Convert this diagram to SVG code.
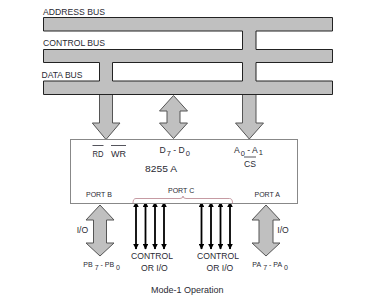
<svg xmlns="http://www.w3.org/2000/svg" width="368" height="301" viewBox="0 0 368 301">
<defs>
<style>
.t{font-family:"Liberation Sans",Arial,sans-serif;fill:#2a2a33;font-size:8.6px}
.s{font-size:7px}
.sub{font-size:7.5px}
.bus{fill:#c0c0c0;stroke:none}
.edge{fill:none;stroke:#222;stroke-width:1}
.fat{fill:#c0c0c0;stroke:#555;stroke-width:1;stroke-linejoin:miter}
.thin{stroke:#000;stroke-width:1.8;marker-start:url(#ah);marker-end:url(#ah)}
.ov{stroke:#2a2a33;stroke-width:0.8}
</style>
<marker id="ah" viewBox="0 0 10 10" refX="9" refY="5" markerWidth="3.2" markerHeight="3.2" orient="auto-start-reverse" markerUnits="strokeWidth">
<path d="M0,0 L10,5 L0,10 Z" fill="#000"/>
</marker>
</defs>
<rect width="368" height="301" fill="#fff"/>

<g id="buses">
<rect class="bus" x="43.5" y="17.5" width="289" height="13.5"/>
<rect class="bus" x="43.5" y="49.5" width="289" height="13"/>
<rect class="bus" x="43.5" y="81" width="289" height="13.5"/>
<rect class="bus" x="242.5" y="30" width="13.5" height="52"/>
<rect class="bus" x="99.5" y="62" width="13" height="20"/>
<path class="edge" d="M242.5,31 H43.5 V17.5 H332.5 V31 H256"/>
<path class="edge" d="M242.5,31 V49.5 M256,31 V49.5"/>
<path class="edge" d="M242.5,49.5 H43.5 V62.5 H99.5 M112.5,62.5 H242.5 M256,62.5 H332.5 V49.5 H256"/>
<path class="edge" d="M242.5,62.5 V81 M256,62.5 V81 M99.5,62.5 V81 M112.5,62.5 V81"/>
<path class="edge" d="M99.5,81 H43.5 V94.5 H332.5 V81 H256 M242.5,81 H112.5"/>
<text class="t" x="43" y="15" textLength="62" lengthAdjust="spacingAndGlyphs">ADDRESS BUS</text>
<text class="t" x="43" y="46" textLength="62" lengthAdjust="spacingAndGlyphs">CONTROL BUS</text>
<text class="t" x="41.5" y="78" textLength="41" lengthAdjust="spacingAndGlyphs">DATA BUS</text>
</g>

<g id="connectors">
<path class="fat" d="M99.5,95 V123 H92.3 L106,139.5 L120,123 H112.5 V95"/>
<path class="fat" d="M173.5,95.5 L187.5,111 H180 V123 H187.5 L173.5,138.5 L159.5,123 H167 V111 H159.5 Z"/>
<path class="fat" d="M242.5,95 V123 H235.5 L249.3,139 L263.5,123 H256 V95"/>
<path class="fat" d="M100,205 L114,220 H106.5 V243 H114 L100,256 L86,243 H93.5 V220 H86 Z"/>
<path class="fat" d="M266,205 L280,220 H273 V243 H280 L266,256 L252,243 H259 V220 H252 Z"/>
<g>
<line class="thin" x1="136" y1="202" x2="136" y2="249"/>
<line class="thin" x1="145.5" y1="202" x2="145.5" y2="249"/>
<line class="thin" x1="155" y1="202" x2="155" y2="249"/>
<line class="thin" x1="164" y1="202" x2="164" y2="249"/>
<line class="thin" x1="201.5" y1="202" x2="201.5" y2="249"/>
<line class="thin" x1="211" y1="202" x2="211" y2="249"/>
<line class="thin" x1="220.5" y1="202" x2="220.5" y2="249"/>
<line class="thin" x1="230" y1="202" x2="230" y2="249"/>
</g>
</g>

<g id="chip8255">
<rect x="70.5" y="139.5" width="227" height="64" fill="#fff" stroke="#888" stroke-width="1"/>
<text class="t" x="92.5" y="157" textLength="11" lengthAdjust="spacingAndGlyphs">RD</text>
<line class="ov" x1="92.5" y1="145.5" x2="103.5" y2="145.5"/>
<text class="t" x="111" y="157" textLength="15" lengthAdjust="spacingAndGlyphs">WR</text>
<line class="ov" x1="111" y1="145.5" x2="126" y2="145.5"/>
<text class="t" x="159.5" y="153">D<tspan class="sub" dx="1" dy="3">7</tspan><tspan dy="-3"> - D</tspan><tspan class="sub" dx="1" dy="3">0</tspan></text>
<text class="t" x="234" y="153">A<tspan class="sub" dx="1" dy="3">0</tspan><tspan dy="-3"> - A</tspan><tspan class="sub" dx="1" dy="2">1</tspan></text>
<text class="t" x="244" y="167">CS</text>
<line class="ov" x1="244" y1="157" x2="256" y2="157"/>
<text class="t" x="145" y="171.5" textLength="32" lengthAdjust="spacingAndGlyphs">8255 A</text>
<text class="t s" x="86" y="197">PORT B</text>
<text class="t s" x="168" y="192.5">PORT C</text>
<text class="t s" x="254.5" y="197">PORT A</text>
<path d="M133,203 Q133,198.5 136,198.5 L180,198.5 Q183,198.5 183,196 Q183,198.5 186,198.5 L229.5,198.5 Q232.5,198.5 232.5,203" fill="none" stroke="#c09098" stroke-width="0.9"/>
</g>

<g id="portB">
<text class="t" x="76.7" y="232.5">I/O</text>
<text class="t s" x="83.3" y="266.5">PB<tspan dx="2" dy="3.5">7</tspan><tspan dy="-3.5"> - PB</tspan><tspan dx="2" dy="3.5">0</tspan></text>
</g>
<g id="portA">
<text class="t" x="277.3" y="232.5">I/O</text>
<text class="t s" x="252.3" y="266.5">PA<tspan dx="2" dy="3.5">7</tspan><tspan dy="-3.5"> - PA</tspan><tspan dx="2" dy="3.5">0</tspan></text>
</g>
<g id="portC">
<text class="t" x="131" y="259" textLength="42" lengthAdjust="spacingAndGlyphs">CONTROL</text>
<text class="t" x="141" y="270.5">OR I/O</text>
<text class="t" x="197" y="259" textLength="42" lengthAdjust="spacingAndGlyphs">CONTROL</text>
<text class="t" x="206.5" y="270.5">OR I/O</text>
</g>
<g id="caption">
<text class="t" x="151" y="293" style="font-size:9px">Mode-1 Operation</text>
</g>
</svg>
